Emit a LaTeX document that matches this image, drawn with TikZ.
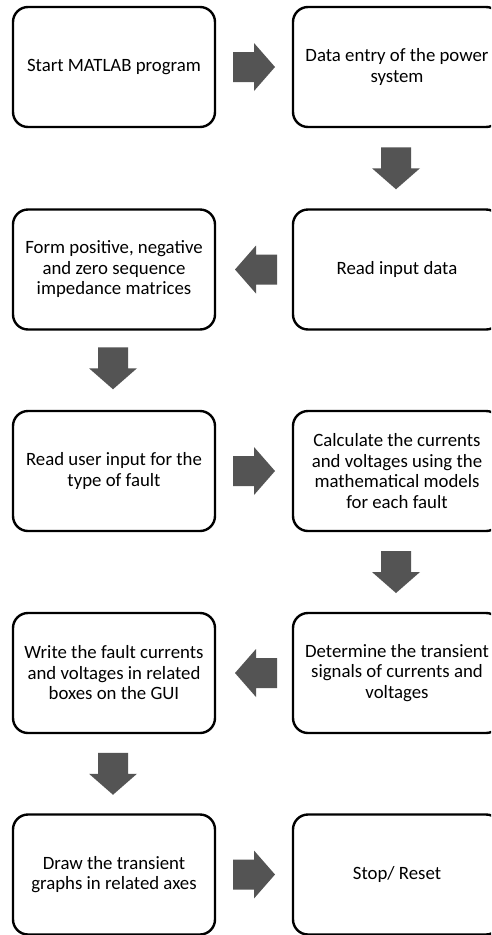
\documentclass[tikz,border=0pt]{standalone}
\usepackage{fontspec}
\setmainfont{Carlito}
\usetikzlibrary{calc}
\tikzset{
  stepbox/.style={draw=black, line width=2.4pt, rounded corners=15pt, fill=white,
    minimum width=202pt, minimum height=120pt, align=center, inner sep=0pt,
    font=\fontsize{18.8}{20.5}\selectfont},
  rightbox/.style={stepbox, minimum width=208pt},
  arrowfill/.style={fill=black!67, draw=none},
  pics/rarrow/.style={code={\fill[arrowfill] (-21,-15) -- (0,-15) -- (0,-24) -- (21,0) -- (0,24) -- (0,15) -- (-21,15) -- cycle;}},
  pics/larrow/.style={code={\fill[arrowfill] (21,-15) -- (0,-15) -- (0,-24) -- (-21,0) -- (0,24) -- (0,15) -- (21,15) -- cycle;}},
  pics/darrow/.style={code={\fill[arrowfill] (-15,-21) -- (-15,0) -- (-24,0) -- (0,21) -- (24,0) -- (15,0) -- (15,-21) -- cycle;}},
}
\begin{document}
\begin{tikzpicture}[x=1pt,y=-1pt]
\fill[white] (0,0) rectangle (491,935);
\useasboundingbox (0,0) rectangle (491,935);
\clip (0,0) rectangle (491,935);
% boxes
\node[stepbox] (l1) at (114,67) {Start MATLAB program};
\node[rightbox] (r1) at (397,67) {Data entry of the power\\system};
\node[rightbox] (r2) at (397,269.5) {Read input data};
\node[stepbox] (l2) at (114,269.5) {Form positive, negative\\and zero sequence\\impedance matrices};
\node[stepbox] (l3) at (114,471) {Read user input for the\\type of fault};
\node[rightbox] (r3) at (397,471) {Calculate the currents\\and voltages using the\\mathematical models\\for each fault};
\node[rightbox] (r4) at (397,673) {Determine the transient\\signals of currents and\\voltages};
\node[stepbox] (l4) at (114,673) {Write the fault currents\\and voltages in related\\boxes on the GUI};
\node[stepbox] (l5) at (114,874.5) {Draw the transient\\graphs in related axes};
\node[rightbox] (r5) at (397,874.5) {Stop/ Reset};
% block arrows
\pic at ($(l1.east)!0.5!(r1.west)$) {rarrow};
\pic at ($(r1.south)!0.5!(r2.north)+(-1,0)$) {darrow};
\pic at ($(r2.west)!0.5!(l2.east)+(2,0)$) {larrow};
\pic at ($(l2.south)!0.5!(l3.north)+(-1,-2)$) {darrow};
\pic at ($(l3.east)!0.5!(r3.west)$) {rarrow};
\pic at ($(r3.south)!0.5!(r4.north)+(-1,0)$) {darrow};
\pic at ($(r4.west)!0.5!(l4.east)+(2,0)$) {larrow};
\pic at ($(l4.south)!0.5!(l5.north)+(-1,0)$) {darrow};
\pic at ($(l5.east)!0.5!(r5.west)$) {rarrow};
\end{tikzpicture}
\end{document}
